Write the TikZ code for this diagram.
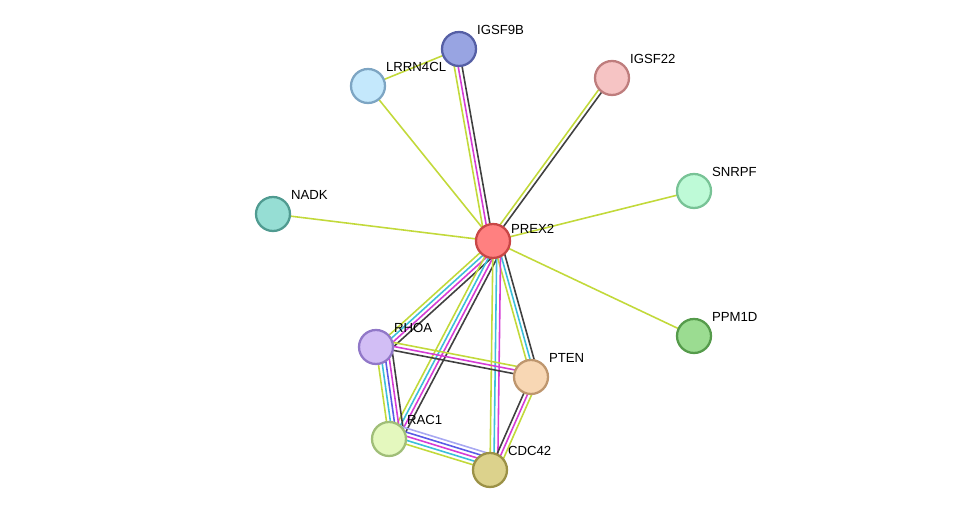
\documentclass[tikz,border=0pt]{standalone}
\usepackage{fontspec}
\setmainfont{Liberation Sans}
\usetikzlibrary{calc}
\definecolor{ctxt}{HTML}{C2D93A}
\definecolor{cexp}{HTML}{D53CD5}
\definecolor{cdb}{HTML}{3CBFD9}
\definecolor{cco}{HTML}{404040}
\definecolor{cneigh}{HTML}{5A5AE6}
\definecolor{cneighl}{HTML}{A8A8F2}
\def\edge#1#2#3{% (from)(to){colour list}
  \foreach \c [count=\i] in {#3}{
    \pgfmathsetmacro{\o}{(\i-1)*2.2}
    \draw[\c, line width=0.9pt] ($(#1)!\o pt!90:(#2)$) -- ($(#2)!\o pt!-90:(#1)$);
  }}
\tikzset{prot/.style={circle, minimum size=0.68cm, line width=1.3pt, inner sep=0pt},
  lab/.style={font=\fontsize{7.5}{8}\selectfont, anchor=south west, inner sep=1pt}}
\begin{document}
\begin{tikzpicture}[x=0.02cm,y=-0.02cm]
	\useasboundingbox (0,0) rectangle (975,516);
	%positions
	\coordinate (prex2) at (493,241);
	\coordinate (igsf9b) at (459,49);
	\coordinate (lrrn4cl) at (368,86);
	\coordinate (igsf22) at (612,78);
	\coordinate (snrpf) at (694,191);
	\coordinate (nadk) at (273,214);
	\coordinate (ppm1d) at (694,336);
	\coordinate (rhoa) at (376,347);
	\coordinate (pten) at (531,377);
	\coordinate (rac1) at (389,439);
	\coordinate (cdc42) at (490,470);
	
	%edges
	\edge{prex2}{igsf9b}{cco,cexp,ctxt}
	\edge{prex2}{lrrn4cl}{ctxt}
	\edge{lrrn4cl}{igsf9b}{ctxt}
	\edge{prex2}{igsf22}{cco,ctxt}
	\edge{prex2}{snrpf}{ctxt}
	\edge{prex2}{nadk}{ctxt}
	\edge{prex2}{ppm1d}{ctxt}
	\edge{prex2}{rhoa}{ctxt,cdb,cexp,cco}
	\edge{prex2}{rac1}{ctxt,cdb,cexp,cco}
	\edge{prex2}{pten}{ctxt,cdb,cco}
	\edge{prex2}{cdc42}{ctxt,cdb,cexp}
	\edge{rhoa}{pten}{cco,cexp,ctxt}
	\edge{rhoa}{rac1}{ctxt,cdb,cneigh,cexp,cco}
	\edge{rac1}{cdc42}{ctxt,cdb,cexp,cneigh,cneighl}
	\edge{pten}{cdc42}{cco,cexp,ctxt}
	
	%proteins
	\node[prot, fill={rgb,255:red,255;green,128;blue,128}, draw={rgb,255:red,200;green,70;blue,70}] (n1) at (prex2) {};
	\node[lab] at ($(prex2)+(16,-5)$) {PREX2};
	\node[prot, fill={rgb,255:red,152;green,164;blue,226}, draw={rgb,255:red,85;green,95;blue,165}] (n2) at (igsf9b) {};
	\node[lab] at ($(igsf9b)+(16,-12)$) {IGSF9B};
	\node[prot, fill={rgb,255:red,196;green,232;blue,252}, draw={rgb,255:red,125;green,165;blue,195}] (n3) at (lrrn4cl) {};
	\node[lab] at ($(lrrn4cl)+(16,-12)$) {LRRN4CL};
	\node[prot, fill={rgb,255:red,246;green,196;blue,196}, draw={rgb,255:red,190;green,125;blue,125}] (n4) at (igsf22) {};
	\node[lab] at ($(igsf22)+(16,-12)$) {IGSF22};
	\node[prot, fill={rgb,255:red,190;green,250;blue,215}, draw={rgb,255:red,120;green,195;blue,150}] (n5) at (snrpf) {};
	\node[lab] at ($(snrpf)+(16,-12)$) {SNRPF};
	\node[prot, fill={rgb,255:red,150;green,222;blue,212}, draw={rgb,255:red,80;green,155;blue,145}] (n6) at (nadk) {};
	\node[lab] at ($(nadk)+(16,-12)$) {NADK};
	\node[prot, fill={rgb,255:red,155;green,220;blue,145}, draw={rgb,255:red,85;green,155;blue,75}] (n7) at (ppm1d) {};
	\node[lab] at ($(ppm1d)+(16,-12)$) {PPM1D};
	\node[prot, fill={rgb,255:red,210;green,190;blue,245}, draw={rgb,255:red,145;green,120;blue,200}] (n8) at (rhoa) {};
	\node[lab] at ($(rhoa)+(16,-12)$) {RHOA};
	\node[prot, fill={rgb,255:red,248;green,215;blue,180}, draw={rgb,255:red,190;green,150;blue,110}] (n9) at (pten) {};
	\node[lab] at ($(pten)+(16,-12)$) {PTEN};
	\node[prot, fill={rgb,255:red,228;green,248;blue,190}, draw={rgb,255:red,160;green,190;blue,120}] (n10) at (rac1) {};
	\node[lab] at ($(rac1)+(16,-12)$) {RAC1};
	\node[prot, fill={rgb,255:red,220;green,210;blue,140}, draw={rgb,255:red,155;green,145;blue,70}] (n11) at (cdc42) {};
	\node[lab] at ($(cdc42)+(16,-12)$) {CDC42};
\end{tikzpicture}
\end{document}
